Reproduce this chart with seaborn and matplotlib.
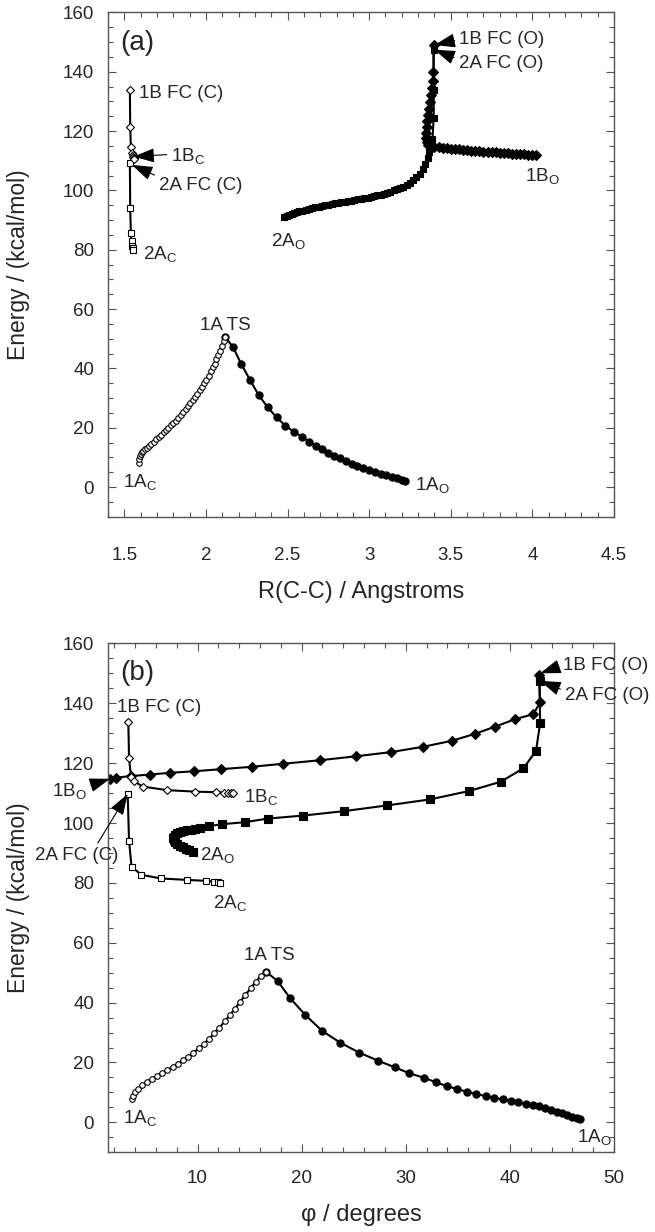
import matplotlib
matplotlib.use("Agg")
import matplotlib.pyplot as plt
import seaborn as sns
from matplotlib.ticker import MultipleLocator, FuncFormatter

sns.set_style("ticks")
plt.rcParams['font.family'] = ['Liberation Sans', 'DejaVu Sans']
plt.rcParams['mathtext.fontset'] = 'custom'
plt.rcParams['mathtext.rm'] = 'Liberation Sans'
plt.rcParams['mathtext.it'] = 'Liberation Sans:italic'
plt.rcParams['mathtext.bf'] = 'Liberation Sans:bold'

# ---------------- panel (a): energy vs R(C-C) ----------------
a_1Ac_x = [1.589, 1.592, 1.596, 1.601, 1.608, 1.616, 1.625, 1.636, 1.650, 1.665,
           1.680, 1.695, 1.710, 1.725, 1.740, 1.755, 1.770, 1.785, 1.800, 1.815,
           1.830, 1.845, 1.860, 1.875, 1.890, 1.905, 1.920, 1.934, 1.948, 1.962,
           1.976, 1.990, 2.003, 2.016, 2.029, 2.041, 2.053, 2.064, 2.075, 2.086,
           2.097, 2.108, 2.118]
a_1Ac_y = [8.2, 9.4, 10.3, 11.0, 11.7, 12.3, 12.7, 13.2, 13.7, 14.5,
           15.3, 16.1, 16.8, 17.6, 18.4, 19.2, 20.0, 20.8, 21.6, 22.4,
           23.3, 24.2, 25.2, 26.2, 27.2, 28.2, 29.2, 30.3, 31.4, 32.6,
           33.8, 35.0, 36.2, 37.6, 39.0, 40.3, 41.6, 43.0, 44.5, 46.0,
           47.6, 49.1, 50.5]

a_1Ao_x = [2.118, 2.165, 2.216, 2.270, 2.323, 2.378, 2.433, 2.486, 2.537, 2.586,
           2.632, 2.673, 2.714, 2.750, 2.785, 2.820, 2.856, 2.893, 2.927, 2.962,
           2.999, 3.035, 3.070, 3.104, 3.141, 3.171, 3.202, 3.222]
a_1Ao_y = [50.5, 47.3, 41.5, 36.1, 31.0, 26.9, 23.5, 20.7, 18.7, 17.0,
           15.3, 13.9, 12.7, 11.6, 10.6, 9.7, 8.8, 7.9, 7.1, 6.4,
           5.7, 5.1, 4.5, 3.9, 3.4, 2.9, 2.5, 2.1]

a_1Bc_x = [1.534, 1.536, 1.540, 1.548, 1.552, 1.556, 1.558, 1.559]
a_1Bc_y = [133.8, 121.5, 114.7, 112.7, 112.0, 111.4, 111.0, 110.6]

a_2Ac_x = [1.534, 1.536, 1.540, 1.544, 1.548, 1.551, 1.553]
a_2Ac_y = [109.1, 94.0, 85.5, 82.8, 81.3, 80.5, 80.0]

a_2Ao_x = [2.480, 2.495, 2.510, 2.525, 2.540, 2.555, 2.570, 2.590, 2.610, 2.630,
           2.650, 2.670, 2.690, 2.710, 2.730, 2.750, 2.770, 2.790, 2.810, 2.830,
           2.850, 2.870, 2.890, 2.910, 2.930, 2.950, 2.970, 2.990, 3.010, 3.030,
           3.050, 3.070, 3.090, 3.110, 3.130, 3.150, 3.170, 3.190, 3.210, 3.230,
           3.250, 3.270, 3.290, 3.310, 3.330, 3.345, 3.358, 3.368, 3.378, 3.388,
           3.395, 3.396, 3.395]
a_2Ao_y = [91.1, 91.4, 91.7, 92.0, 92.3, 92.6, 92.9, 93.2, 93.5, 93.8,
           94.0, 94.3, 94.5, 94.8, 95.0, 95.2, 95.4, 95.6, 95.8, 96.0,
           96.2, 96.4, 96.6, 96.8, 97.0, 97.2, 97.4, 97.6, 97.8, 98.0,
           98.3, 98.6, 98.9, 99.2, 99.6, 100.0, 100.4, 100.8, 101.3, 101.9,
           102.6, 103.4, 104.4, 105.7, 107.3, 109.0, 111.0, 113.0, 115.0, 117.5,
           124.3, 133.8, 147.3]

a_1Bo_x = [3.395, 3.394, 3.391, 3.386, 3.380, 3.373, 3.366, 3.360, 3.355, 3.352,
           3.350, 3.351, 3.355, 3.362, 3.372, 3.385, 3.400, 3.425, 3.450, 3.475,
           3.500, 3.525, 3.550, 3.575, 3.600, 3.625, 3.650, 3.675, 3.700, 3.725,
           3.750, 3.775, 3.800, 3.825, 3.850, 3.875, 3.900, 3.925, 3.950, 3.975,
           4.000, 4.025]
a_1Bo_y = [149.0, 140.0, 137.0, 134.5, 132.0, 129.8, 127.6, 125.5, 123.4, 121.4,
           119.5, 117.8, 116.3, 115.3, 114.9, 114.7, 114.6, 114.5, 114.3, 114.2,
           114.0, 113.9, 113.8, 113.6, 113.5, 113.4, 113.3, 113.2, 113.1, 113.0,
           112.9, 112.8, 112.7, 112.6, 112.5, 112.4, 112.3, 112.3, 112.2, 112.1,
           112.1, 112.0]

# ---------------- panel (b): energy vs phi ----------------
b_1Ac_x = [3.67, 3.8, 4.0, 4.3, 4.67, 5.1, 5.6, 6.1, 6.6, 7.1,
           7.6, 8.1, 8.6, 9.1, 9.6, 10.1, 10.6, 11.1, 11.6, 12.1,
           12.6, 13.1, 13.6, 14.1, 14.6, 15.1, 15.6, 16.1, 16.56]
b_1Ac_y = [7.7, 8.8, 10.0, 11.2, 12.4, 13.5, 14.6, 15.5, 16.5, 17.5,
           18.5, 19.6, 20.8, 22.0, 23.3, 24.7, 26.2, 27.9, 29.7, 31.6,
           33.7, 35.8, 38.0, 40.3, 42.6, 44.8, 47.0, 49.0, 50.3]

b_1Ao_x = [16.56, 17.68, 18.91, 20.35, 21.95, 23.72, 25.53, 27.34, 28.94, 30.35,
           31.76, 32.88, 33.97, 34.96, 35.89, 36.77, 37.66, 38.5, 39.3, 40.06,
           40.79, 41.5, 42.19, 42.78, 43.39, 43.99, 44.5, 45.0, 45.5, 46.0,
           46.4, 46.7]
b_1Ao_y = [50.3, 47.3, 41.4, 35.9, 30.6, 26.6, 23.3, 20.6, 18.4, 16.4,
           14.9, 13.4, 12.1, 11.1, 10.2, 9.5, 8.8, 8.2, 7.7, 7.2,
           6.8, 6.3, 5.8, 5.3, 4.8, 4.2, 3.6, 3.0, 2.4, 1.9,
           1.4, 1.1]

b_1Bc_x = [3.35, 3.42, 3.61, 3.90, 4.73, 7.04, 9.76, 11.75, 12.57, 12.96, 13.19, 13.38]
b_1Bc_y = [133.9, 121.6, 115.5, 114.0, 112.2, 111.0, 110.5, 110.3, 110.2, 110.2, 110.1, 110.1]

b_1Bo_x = [1.6, 2.2, 3.6, 5.4, 7.4, 9.65, 12.25, 15.2, 18.2, 21.8,
           25.2, 28.56, 31.69, 34.45, 36.63, 38.58, 40.5, 42.26, 42.9, 42.8]
b_1Bo_y = [114.8, 115.2, 115.7, 116.2, 116.8, 117.3, 118.0, 118.8, 119.8, 121.0,
           122.3, 123.7, 125.5, 127.5, 129.8, 132.2, 134.7, 136.4, 140.3, 149.3]

b_2Ao_x = [42.85, 42.9, 42.51, 41.3, 39.12, 36.08, 32.33, 28.23, 24.1, 20.16,
           16.75, 14.56, 12.32, 11.13, 10.24, 9.8, 9.4, 9.0, 8.6, 8.3,
           8.0, 7.8, 7.7, 7.67, 7.7, 7.8, 8.0, 8.3, 8.6, 8.9,
           9.2, 9.6]
b_2Ao_y = [147.4, 133.3, 124.1, 118.3, 113.8, 110.7, 107.9, 105.9, 104.0, 102.5,
           101.5, 100.3, 99.6, 99.0, 98.2, 98.0, 97.8, 97.6, 97.3, 97.0,
           96.6, 96.1, 95.5, 94.9, 94.3, 93.7, 93.1, 92.5, 91.9, 91.4,
           90.9, 90.4]

b_2Ac_x = [3.29, 3.42, 3.66, 4.6, 6.47, 8.97, 10.8, 11.6, 11.97, 12.2]
b_2Ac_y = [109.7, 94.1, 85.4, 82.7, 81.5, 81.0, 80.7, 80.4, 80.2, 80.1]

SPINE = '#555555'
FS = 13.5


def curve(ax, x, y, marker, ms, filled):
    sns.lineplot(x=x, y=y, sort=False, estimator=None, ax=ax, color='black',
                 linewidth=1.5, marker=marker, markersize=ms,
                 markerfacecolor='black' if filled else 'white',
                 markeredgecolor='black', markeredgewidth=0.8, legend=False)


def style_axes(ax, xlim, xmajor, xminor, xpad):
    ax.set_xlim(*xlim)
    ax.set_ylim(-10, 160)
    ax.xaxis.set_major_locator(MultipleLocator(xmajor))
    ax.xaxis.set_minor_locator(MultipleLocator(xminor))
    ax.yaxis.set_major_locator(MultipleLocator(20))
    ax.yaxis.set_minor_locator(MultipleLocator(5))
    ax.xaxis.set_major_formatter(FuncFormatter(lambda v, p: f"{v:g}"))
    ax.tick_params(which='both', direction='in', top=True, right=True,
                   color=SPINE, width=0.8, labelsize=13.5)
    ax.tick_params(which='major', length=5.5)
    ax.tick_params(which='minor', length=3.5)
    ax.tick_params(axis='y', pad=10)
    ax.tick_params(axis='x', pad=xpad)
    for s in ax.spines.values():
        s.set_color(SPINE)
        s.set_linewidth(1.0)
        s.set_visible(True)


def label(ax, text, x, y, ha='left', size=FS):
    ax.text(x, y, text, fontsize=size, ha=ha, va='baseline', clip_on=False)


def pointer(ax, text, xy, xytext, relpos=(0, 0.5)):
    ax.annotate(text, xy=xy, xytext=xytext, textcoords='data', fontsize=FS,
                ha='left', va='baseline', annotation_clip=False,
                arrowprops=dict(arrowstyle='-|>,head_length=1.0,head_width=0.34',
                                color='black', lw=0.8, shrinkA=1, shrinkB=0,
                                relpos=relpos, mutation_scale=13))


fig = plt.figure(figsize=(6.55, 12.32), dpi=100)
ax_a = fig.add_axes([0.1649, 0.5806, 0.7725, 0.4093])
ax_b = fig.add_axes([0.1649, 0.0647, 0.7725, 0.4130])

# panel (a)
curve(ax_a, a_2Ao_x, a_2Ao_y, 's', 5, True)
curve(ax_a, a_1Bo_x, a_1Bo_y, 'D', 5, True)
curve(ax_a, a_1Ao_x, a_1Ao_y, 'o', 5.2, True)
curve(ax_a, a_1Ac_x, a_1Ac_y, 'o', 4, False)
curve(ax_a, a_2Ac_x, a_2Ac_y, 's', 4.5, False)
curve(ax_a, a_1Bc_x, a_1Bc_y, 'D', 4.3, False)
style_axes(ax_a, (1.4, 4.5), 0.5, 0.1, 22)
ax_a.set_xlabel("R(C-C) / Angstroms", fontsize=17)
ax_a.xaxis.set_label_coords(0.5, -0.1285)
ax_a.set_ylabel("Energy / (kcal/mol)", fontsize=16.5)
ax_a.yaxis.set_label_coords(-0.155, 0.5)

label(ax_a, "(a)", 1.473, 147.4, size=20)
label(ax_a, "1B FC (C)", 1.591, 131.0)
pointer(ax_a, "1B$_\\mathrm{C}$", (1.556, 111.4), (1.788, 109.8), relpos=(0, 0.6))
pointer(ax_a, "2A FC (C)", (1.546, 108.6), (1.713, 100.1), relpos=(0, 1))
label(ax_a, "2A$_\\mathrm{C}$", 1.615, 76.8)
label(ax_a, "2A$_\\mathrm{O}$", 2.40, 81.4)
label(ax_a, "1B$_\\mathrm{O}$", 3.955, 103.3)
pointer(ax_a, "1B FC (O)", (3.40, 149.0), (3.552, 149.4))
pointer(ax_a, "2A FC (O)", (3.40, 147.4), (3.548, 141.2), relpos=(0, 0.75))
label(ax_a, "1A TS", 2.118, 53.0, ha='center')
label(ax_a, "1A$_\\mathrm{C}$", 1.493, -0.1)
label(ax_a, "1A$_\\mathrm{O}$", 3.283, -1.0)

# panel (b)
curve(ax_b, b_2Ao_x, b_2Ao_y, 's', 5.2, True)
curve(ax_b, b_1Bo_x, b_1Bo_y, 'D', 5.2, True)
curve(ax_b, b_1Ao_x, b_1Ao_y, 'o', 5.2, True)
curve(ax_b, b_1Ac_x, b_1Ac_y, 'o', 4, False)
curve(ax_b, b_2Ac_x, b_2Ac_y, 's', 4.5, False)
curve(ax_b, b_1Bc_x, b_1Bc_y, 'D', 4.3, False)
style_axes(ax_b, (1.4, 50), 10, 2, 12.5)
ax_b.set_xlabel("\u03c6 / degrees", fontsize=17)
ax_b.xaxis.set_label_coords(0.5, -0.1026)
ax_b.set_ylabel("Energy / (kcal/mol)", fontsize=16.5)
ax_b.yaxis.set_label_coords(-0.155, 0.5)

label(ax_b, "(b)", 2.55, 147.9, size=20)
label(ax_b, "1B FC (C)", 2.235, 137.0)
label(ax_b, "1B$_\\mathrm{C}$", 14.49, 107.2)
pointer(ax_b, "1B$_\\mathrm{O}$", (1.6, 114.8), (-4.0, 109.2), relpos=(1, 0.7))
pointer(ax_b, "2A FC (C)", (3.29, 109.7), (-5.6, 87.5), relpos=(0.72, 1))
label(ax_b, "2A$_\\mathrm{O}$", 10.24, 87.5)
label(ax_b, "2A$_\\mathrm{C}$", 11.46, 71.5)
label(ax_b, "1A TS", 16.92, 54.3, ha='center')
label(ax_b, "1A$_\\mathrm{C}$", 2.86, -0.3)
label(ax_b, "1A$_\\mathrm{O}$", 46.4, -6.4)
pointer(ax_b, "1B FC (O)", (42.9, 150.0), (45.14, 151.3))
pointer(ax_b, "2A FC (O)", (42.9, 147.5), (45.3, 141.2), relpos=(0, 0.75))

fig.savefig("out.png", dpi=100)
plt.close(fig)
